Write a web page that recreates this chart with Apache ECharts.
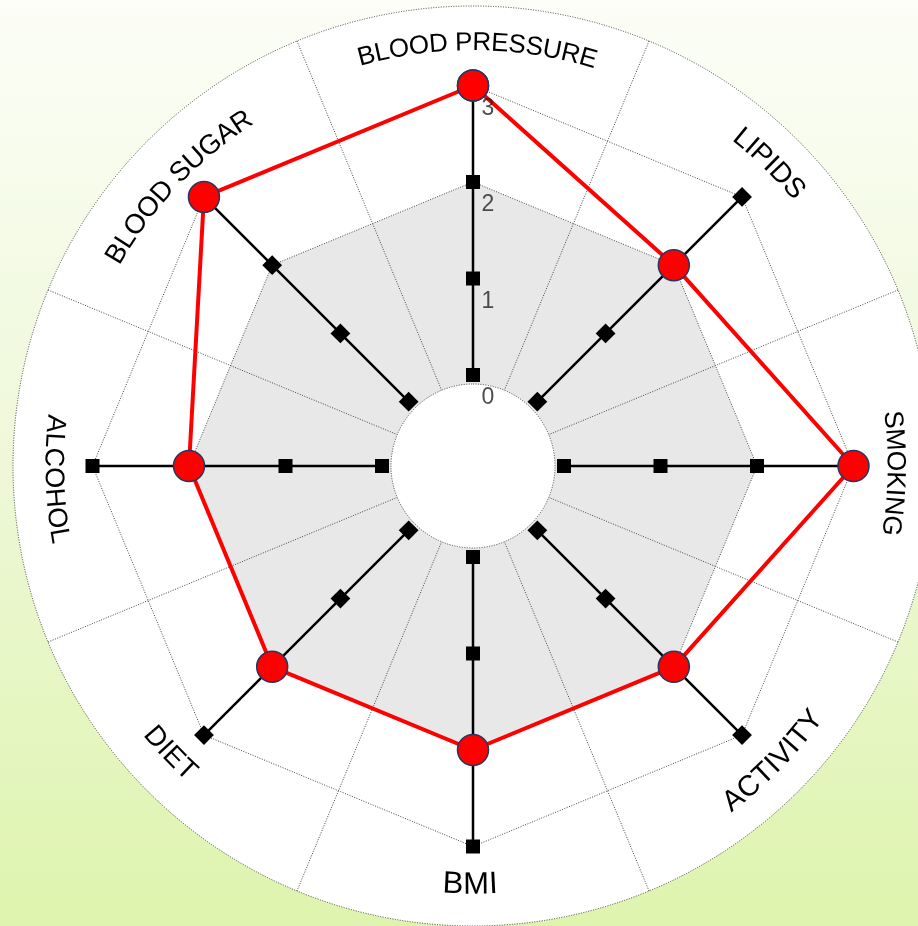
<!DOCTYPE html>
<html><head><meta charset="utf-8">
<script src="https://cdn.jsdelivr.net/npm/echarts@6/dist/echarts.min.js"></script>
<style>html,body{margin:0;padding:0;background:#fff;}#c{width:918px;height:926px;}</style>
</head><body><div id="c"></div>
<script>
// ---- data ----
const categories = ['BLOOD PRESSURE','LIPIDS','SMOKING','ACTIVITY','BMI','DIET','ALCOHOL','BLOOD SUGAR'];
const scores = [3,2,3,2,2,2,2,3];
const targetLevel = [2,2,2,2,2,2,2,2];
const outerLevel = [3,3,3,3,3,3,3,3];
const tickValues = [0,1,2,3];
const tickLabels = ['0','1','2','3'];

// ---- layout / style ----
const CX = 473, CY = 466, R_OUT = 460, R_ZERO = 91, PX_PER_UNIT = 96.5, R_HOLE = 82;
const rMin = -R_ZERO / PX_PER_UNIT, rMax = (R_OUT - R_ZERO) / PX_PER_UNIT;
const FAMILY = '"Liberation Sans", Arial, sans-serif';
const labelStyle = [
  {fs: 26, r: 423, off: -0.6, out: true},
  {fs: 28, r: 424, off: 0.6, out: true},
  {fs: 26.5, r: 422, off: -1.0, out: true},
  {fs: 29, r: 424, off: 0.5, out: false},
  {fs: 31, r: 419, off: -0.4, out: false},
  {fs: 28, r: 418, off: -1.5, out: false},
  {fs: 27, r: 420, off: 1.8, out: false},
  {fs: 27.5, r: 414, off: 1.5, out: true}
];

const closed = arr => arr.map((v, i) => [v, categories[i]]).concat([[arr[0], categories[0]]]);

// ---- curved text via graphic ----
const ctx = document.createElement('canvas').getContext('2d');
const graphics = [];
categories.forEach((txt, i) => {
  const st = labelStyle[i];
  ctx.font = st.fs + 'px ' + FAMILY;
  const chars = txt.split('');
  const widths = chars.map(ch => ctx.measureText(ch).width || st.fs * 0.6);
  const total = widths.reduce((a, b) => a + b, 0);
  const thetaA = (90 - 45 * i + st.off) * Math.PI / 180;
  const span = total / st.r;
  let cum = 0;
  chars.forEach((ch, k) => {
    const mid = (cum + widths[k] / 2) / st.r;
    cum += widths[k];
    let th, rot;
    if (st.out) { th = thetaA + span / 2 - mid; rot = th - Math.PI / 2; }
    else { th = thetaA - span / 2 + mid; rot = th + Math.PI / 2; }
    if (ch === ' ') return;
    graphics.push({
      type: 'text',
      x: CX + st.r * Math.cos(th),
      y: CY - st.r * Math.sin(th),
      rotation: rot,
      z: 100,
      style: {text: ch, fontSize: st.fs, fontFamily: FAMILY, fill: '#000', align: 'center', verticalAlign: 'middle'}
    });
  });
});

const dotted = {color: '#444', width: 1, type: [1, 1.5]};

const axisSeries = categories.map((c, i) => ({
  name: 'axis-' + c,
  type: 'line',
  coordinateSystem: 'polar',
  data: tickValues.map(v => [v, c]),
  symbol: 'rect',
  symbolSize: 14,
  symbolRotate: (i % 2) ? 45 : 0,
  itemStyle: {color: '#000'},
  lineStyle: {color: '#000', width: 2.5},
  z: 5, silent: true
}));

const chart = echarts.init(document.getElementById('c'), null, {renderer: 'canvas'});
chart.setOption({
  backgroundColor: {type: 'linear', x: 0, y: 0, x2: 0, y2: 1,
    colorStops: [{offset: 0, color: '#fcfef7'}, {offset: 0.5, color: '#eef8d8'}, {offset: 1, color: '#def4ae'}]},
  animation: false,
  polar: {center: [CX, CY], radius: [0, R_OUT]},
  angleAxis: {
    type: 'category', data: categories, startAngle: 112.5, clockwise: true, boundaryGap: true,
    axisLine: {show: true, lineStyle: dotted},
    axisTick: {show: false}, axisLabel: {show: false},
    splitLine: {show: true, lineStyle: dotted},
    z: 3
  },
  radiusAxis: {type: 'value', min: rMin, max: rMax, show: false,
    axisLine: {show: false}, axisTick: {show: false}, axisLabel: {show: false}, splitLine: {show: false}},
  series: [
    {name: 'bg', type: 'pie', center: [CX, CY], radius: [0, R_OUT], data: [{value: 1}],
      itemStyle: {color: '#ffffff'}, label: {show: false}, labelLine: {show: false},
      silent: true, z: 1, emphasis: {disabled: true}},
    {name: 'target', type: 'line', coordinateSystem: 'polar', data: closed(targetLevel),
      symbol: 'none', lineStyle: dotted, areaStyle: {color: '#e8e8e8', opacity: 1, origin: 'start'},
      z: 2, silent: true},
    {name: 'outer', type: 'line', coordinateSystem: 'polar', data: closed(outerLevel),
      symbol: 'none', lineStyle: dotted, z: 3, silent: true},
    {name: 'hole', type: 'pie', center: [CX, CY], radius: [0, R_HOLE], data: [{value: 1}],
      itemStyle: {color: '#ffffff', borderColor: '#444', borderWidth: 1, borderType: [1, 1.5]},
      label: {show: false}, labelLine: {show: false}, silent: true, z: 4, emphasis: {disabled: true}},
    ...axisSeries,
    {name: 'score', type: 'line', coordinateSystem: 'polar', data: closed(scores),
      symbol: 'circle', symbolSize: 31, showAllSymbol: true,
      itemStyle: {color: '#ff0000', borderColor: '#1f3864', borderWidth: 1.5},
      lineStyle: {color: '#ff0000', width: 4}, z: 6, silent: true},
    {name: 'ticks', type: 'scatter', coordinateSystem: 'polar',
      data: tickValues.map(v => [v, categories[0]]),
      symbolSize: 1, itemStyle: {color: 'transparent'},
      label: {show: true, position: 'inside', offset: [15, 23],
        formatter: p => tickLabels[p.dataIndex], fontSize: 23, fontFamily: FAMILY, color: '#222'},
      z: 7, silent: true}
  ]
});
chart.setOption({graphic: graphics});
</script>
</body></html>
